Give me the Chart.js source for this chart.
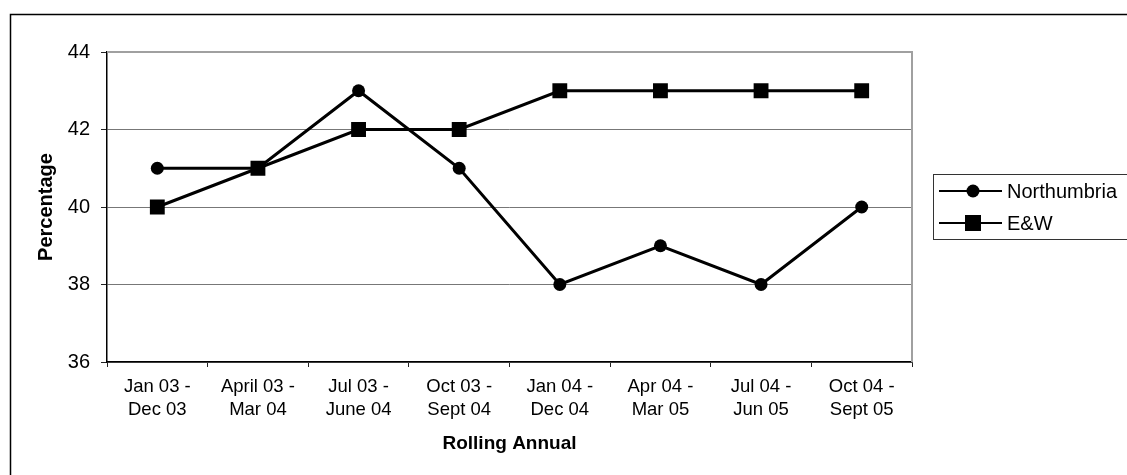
<!DOCTYPE html>
<html>
<head>
<meta charset="utf-8">
<title>Rolling Annual</title>
<script src="https://cdn.jsdelivr.net/npm/chart.js@4/dist/chart.umd.min.js"></script>
<style>
    body { margin: 0; background: #fff; }
    canvas { display: block; }
</style>
</head>
<body>
<canvas id="rollingChart" width="1127" height="475"></canvas>
<script>
// Períodos (rótulos em duas linhas)
const periodos = [
    ['Jan 03 -', 'Dec 03'],
    ['April 03 -', 'Mar 04'],
    ['Jul 03 -', 'June 04'],
    ['Oct 03 -', 'Sept 04'],
    ['Jan 04 -', 'Dec 04'],
    ['Apr 04 -', 'Mar 05'],
    ['Jul 04 -', 'Jun 05'],
    ['Oct 04 -', 'Sept 05']
];

// Valores das séries
const northumbria = [41, 41, 43, 41, 38, 39, 38, 40];
const eAndW = [40, 41, 42, 42, 43, 43, 43, 43];

// Eixo Y
const yMin = 36;
const yMax = 44;
const yStep = 2;

const fonte = "'Liberation Sans', Arial, sans-serif";

// Moldura externa e borda cinza da área do gráfico
const molduraPlugin = {
    id: 'moldura',
    beforeDraw(chart) {
        const ctx = chart.ctx;
        ctx.save();
        ctx.strokeStyle = '#000';
        ctx.lineWidth = 1.5;
        ctx.beginPath();
        ctx.moveTo(10.5, chart.height + 2);
        ctx.lineTo(10.5, 14.5);
        ctx.lineTo(chart.width + 2, 14.5);
        ctx.stroke();
        ctx.restore();
    },
    afterDatasetsDraw(chart) {
        const a = chart.chartArea;
        const ctx = chart.ctx;
        ctx.save();
        ctx.strokeStyle = '#a0a0a0';
        ctx.lineWidth = 2;
        ctx.beginPath();
        ctx.moveTo(a.left, a.top);
        ctx.lineTo(a.right, a.top);
        ctx.lineTo(a.right, a.bottom);
        ctx.stroke();
        ctx.restore();
    }
};

// Legenda desenhada à mão (linha com marcador no meio)
const legendaPlugin = {
    id: 'legenda',
    afterDraw(chart) {
        const ctx = chart.ctx;
        const x0 = 933, y0 = 174;
        ctx.save();
        ctx.strokeStyle = '#333';
        ctx.lineWidth = 1;
        ctx.strokeRect(x0 + 0.5, y0 + 0.5, chart.width - x0 + 5, 65);
        chart.data.datasets.forEach((ds, i) => {
            const y = y0 + 17 + i * 32;
            ctx.strokeStyle = '#000';
            ctx.fillStyle = '#000';
            ctx.lineWidth = 2;
            ctx.beginPath();
            ctx.moveTo(939, y);
            ctx.lineTo(1002, y);
            ctx.stroke();
            if (ds.pointStyle === 'rect') {
                ctx.fillRect(965, y - 8, 16, 16);
            } else {
                ctx.beginPath();
                ctx.arc(973, y, 6.5, 0, Math.PI * 2);
                ctx.fill();
            }
            ctx.font = '20px ' + fonte;
            ctx.textBaseline = 'middle';
            ctx.textAlign = 'left';
            ctx.fillText(ds.label, 1007, y + 1);
        });
        ctx.restore();
    }
};

function initChart() {
    const ctx = document.getElementById('rollingChart').getContext('2d');
    new Chart(ctx, {
        type: 'line',
        data: {
            labels: periodos,
            datasets: [{
                label: 'Northumbria',
                data: northumbria,
                borderColor: '#000',
                backgroundColor: '#000',
                borderWidth: 3,
                pointStyle: 'circle',
                pointRadius: 6.5,
                pointBorderWidth: 0,
                tension: 0
            }, {
                label: 'E&W',
                data: eAndW,
                borderColor: '#000',
                backgroundColor: '#000',
                borderWidth: 3,
                pointStyle: 'rect',
                pointRadius: 10.5,
                pointBorderWidth: 0,
                tension: 0
            }]
        },
        options: {
            responsive: false,
            animation: false,
            layout: {
                padding: { left: 0, top: 52, right: 215, bottom: 0 }
            },
            plugins: {
                legend: { display: false },
                tooltip: { enabled: false }
            },
            scales: {
                x: {
                    offset: true,
                    afterFit(scale) { scale.height = 113; },
                    grid: {
                        offset: true,
                        drawOnChartArea: false,
                        drawTicks: true,
                        tickLength: 5,
                        tickColor: '#222'
                    },
                    border: { color: '#000', width: 1.5 },
                    ticks: {
                        color: '#000',
                        padding: 8,
                        maxRotation: 0,
                        autoSkip: false,
                        font: { family: fonte, size: 18.5, lineHeight: 1.265 }
                    },
                    title: {
                        display: true,
                        text: 'Rolling Annual',
                        color: '#000',
                        padding: { top: 0, bottom: 20 },
                        font: { family: fonte, size: 19, weight: 'bold' }
                    }
                },
                y: {
                    min: yMin,
                    max: yMax,
                    afterFit(scale) { scale.width = 107; },
                    grid: {
                        color: c => (c.tick && c.tick.value === yMax) ? 'rgba(0,0,0,0)' : '#777',
                        lineWidth: 1,
                        tickLength: 6,
                        tickColor: '#222'
                    },
                    border: { color: '#000', width: 1.5 },
                    ticks: {
                        stepSize: yStep,
                        color: '#000',
                        padding: 11,
                        font: { family: fonte, size: 20 }
                    },
                    title: {
                        display: true,
                        text: 'Percentage',
                        color: '#000',
                        padding: { top: 34, bottom: 0 },
                        font: { family: fonte, size: 20, weight: 'bold' }
                    }
                }
            }
        },
        plugins: [molduraPlugin, legendaPlugin]
    });
}

window.onload = function() {
    initChart();
};
</script>
</body>
</html>
